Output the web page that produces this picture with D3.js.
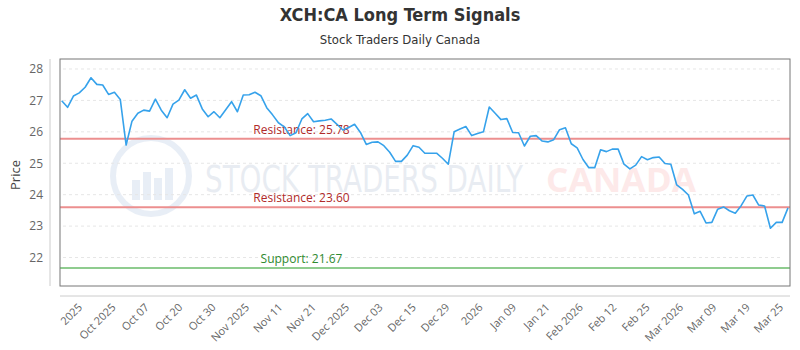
<!DOCTYPE html>
<html>
  <head>
    <title>XCH:CA Long Term Signals</title>
    <script src="https://d3js.org/d3.v7.min.js"></script>
    <style>
      body { margin: 0; background: #fff; }
      svg text { font-family: "Open Sans", "DejaVu Sans", sans-serif; }
    </style>
  </head>
  <body>
    <div id="chart"></div>
    <script>
      // closing prices, one per trading day
      var prices = [
        26.99, 26.78, 27.14, 27.24, 27.42, 27.72, 27.51, 27.49, 27.19, 27.26,
        27.03, 25.58, 26.34, 26.59, 26.69, 26.66, 27.04, 26.69, 26.45, 26.88,
        27.01, 27.34, 27.07, 27.17, 26.73, 26.48, 26.64, 26.45, 26.70, 26.96,
        26.64, 27.17, 27.18, 27.26, 27.15, 26.77, 26.54, 26.29, 26.16, 25.88,
        25.97, 26.41, 26.58, 26.32, 26.35, 26.37, 26.41, 26.24, 26.06, 26.14,
        26.24, 25.98, 25.60, 25.67, 25.68, 25.56, 25.35, 25.06, 25.06, 25.26,
        25.56, 25.51, 25.32, 25.32, 25.32, 25.16, 24.97, 26.00, 26.09, 26.17,
        25.88, 25.95, 26.00, 26.79, 26.59, 26.39, 26.42, 25.98, 25.97, 25.55,
        25.86, 25.88, 25.71, 25.68, 25.75, 26.07, 26.13, 25.62, 25.49, 25.12,
        24.86, 24.86, 25.43, 25.37, 25.45, 25.45, 24.97, 24.82, 24.94, 25.21,
        25.11, 25.18, 25.20, 24.99, 24.97, 24.31, 24.17, 23.99, 23.39, 23.47,
        23.10, 23.12, 23.54, 23.61, 23.49, 23.41, 23.65, 23.96, 23.99, 23.67,
        23.64, 22.93, 23.12, 23.12, 23.58
      ];

      var xLabels = ["2025", "Oct 2025", "Oct 07", "Oct 20", "Oct 30", "Nov 2025",
        "Nov 11", "Nov 21", "Dec 2025", "Dec 03", "Dec 15", "Dec 29", "2026",
        "Jan 09", "Jan 21", "Feb 2026", "Feb 12", "Feb 25", "Mar 2026", "Mar 09",
        "Mar 19", "Mar 25"];

      var yTicks = [22, 23, 24, 25, 26, 27, 28];

      var levels = [
        { label: "Resistance", value: 25.78 },
        { label: "Resistance", value: 23.60 },
        { label: "Support", value: 21.67 }
      ];

      var width = 800, height = 350;
      var box = { left: 60, right: 790, top: 59, bottom: 286 };

      var svg = d3.select("#chart")
        .append("svg")
        .attr("width", width)
        .attr("height", height);

      // scales
      var x = d3.scaleLinear()
        .domain([0, prices.length - 1])
        .range([61.7, 788]);

      var y = d3.scaleLinear()
        .domain([21.094, 28.318])
        .range([box.bottom, box.top]);

      var xl = d3.scalePoint()
        .domain(xLabels)
        .range([83, 784]);

      // titles
      svg.append("text")
        .attr("x", 400).attr("y", 21)
        .attr("text-anchor", "middle")
        .style("font-family", "'Liberation Sans Narrow', 'DejaVu Sans Condensed', sans-serif")
        .style("font-size", "18px")
        .style("font-weight", "bold")
        .attr("fill", "#333")
        .text("XCH:CA Long Term Signals");

      svg.append("text")
        .attr("x", 400).attr("y", 44)
        .attr("text-anchor", "middle")
        .style("font-family", "'Liberation Sans Narrow', 'DejaVu Sans Condensed', sans-serif")
        .style("font-size", "13px")
        .attr("fill", "#333")
        .text("Stock Traders Daily Canada");

      // watermark
      var wm = svg.append("g").attr("opacity", 0.12);
      wm.append("circle")
        .attr("cx", 151).attr("cy", 176).attr("r", 38)
        .attr("fill", "none")
        .attr("stroke", "#4a78b8")
        .attr("stroke-width", 6);
      [[132, 20], [143, 28], [154, 22], [165, 32]].forEach(function(b) {
        wm.append("rect")
          .attr("x", b[0]).attr("y", 200 - b[1])
          .attr("width", 8).attr("height", b[1])
          .attr("fill", "#4a78b8");
      });
      wm.append("text")
        .attr("x", 205).attr("y", 192)
        .attr("textLength", 318)
        .attr("lengthAdjust", "spacingAndGlyphs")
        .style("font-family", "'Liberation Sans Narrow', 'DejaVu Sans Condensed', sans-serif")
        .style("font-size", "38px")
        .attr("fill", "#4a6a98")
        .text("STOCK TRADERS DAILY");
      wm.append("text")
        .attr("x", 546).attr("y", 192)
        .attr("textLength", 150)
        .attr("lengthAdjust", "spacingAndGlyphs")
        .style("font-size", "34px")
        .style("font-weight", "bold")
        .attr("fill", "#f05050")
        .text("CANADA");

      // grid
      svg.append("g")
        .selectAll("line")
        .data(yTicks)
        .enter()
        .append("line")
        .attr("x1", 63).attr("x2", 783)
        .attr("y1", function(d) { return y(d); })
        .attr("y2", function(d) { return y(d); })
        .attr("stroke", "#e6e6e6")
        .attr("stroke-dasharray", "3,3");

      // y axis
      var yAxis = svg.append("g")
        .attr("transform", "translate(50,0)")
        .call(d3.axisLeft(y).tickValues(yTicks).tickSize(0).tickPadding(7));
      yAxis.select(".domain").remove();
      yAxis.selectAll("text")
        .style("font-size", "12px")
        .attr("fill", "#666");
      svg.append("line")
        .attr("x1", 50).attr("x2", 50)
        .attr("y1", box.top).attr("y2", box.bottom)
        .attr("stroke", "#ccc");

      svg.append("text")
        .attr("transform", "translate(20,175) rotate(-90)")
        .attr("text-anchor", "middle")
        .style("font-size", "13px")
        .attr("fill", "#444")
        .text("Price");

      // x axis labels
      svg.append("line")
        .attr("x1", box.left).attr("x2", box.right)
        .attr("y1", 296).attr("y2", 296)
        .attr("stroke", "#ccc");
      svg.append("g")
        .selectAll("text")
        .data(xLabels)
        .enter()
        .append("text")
        .attr("transform", function(d) { return "translate(" + xl(d) + ",308) rotate(-45)"; })
        .attr("text-anchor", "end")
        .style("font-size", "11px")
        .attr("fill", "#666")
        .text(function(d) { return d; });

      // support / resistance
      var lv = svg.append("g");
      lv.selectAll("line")
        .data(levels)
        .enter()
        .append("line")
        .attr("x1", box.left).attr("x2", box.right)
        .attr("y1", function(d) { return y(d.value); })
        .attr("y2", function(d) { return y(d.value); })
        .attr("stroke", function(d) { return d.label == "Support" ? "#8fcc8f" : "#ec8f8f"; })
        .attr("stroke-width", 2);
      lv.selectAll("text")
        .data(levels)
        .enter()
        .append("text")
        .attr("x", 301.5)
        .attr("y", function(d) { return y(d.value) - 5; })
        .attr("text-anchor", "middle")
        .style("font-size", "12px")
        .attr("fill", function(d) { return d.label == "Support" ? "#2f8a2f" : "#b02a2a"; })
        .text(function(d) { return d.label + ": " + d.value.toFixed(2); });

      // price line
      var line = d3.line()
        .x(function(d, i) { return x(i); })
        .y(function(d) { return y(d); });

      svg.append("path")
        .datum(prices)
        .attr("d", line)
        .attr("fill", "none")
        .attr("stroke", "#36a2eb")
        .attr("stroke-width", 1.6)
        .attr("stroke-linejoin", "round");

      // plot frame
      svg.append("rect")
        .attr("x", box.left).attr("y", box.top)
        .attr("width", box.right - box.left)
        .attr("height", box.bottom - box.top)
        .attr("fill", "none")
        .attr("stroke", "#777");
    </script>
  </body>
</html>
